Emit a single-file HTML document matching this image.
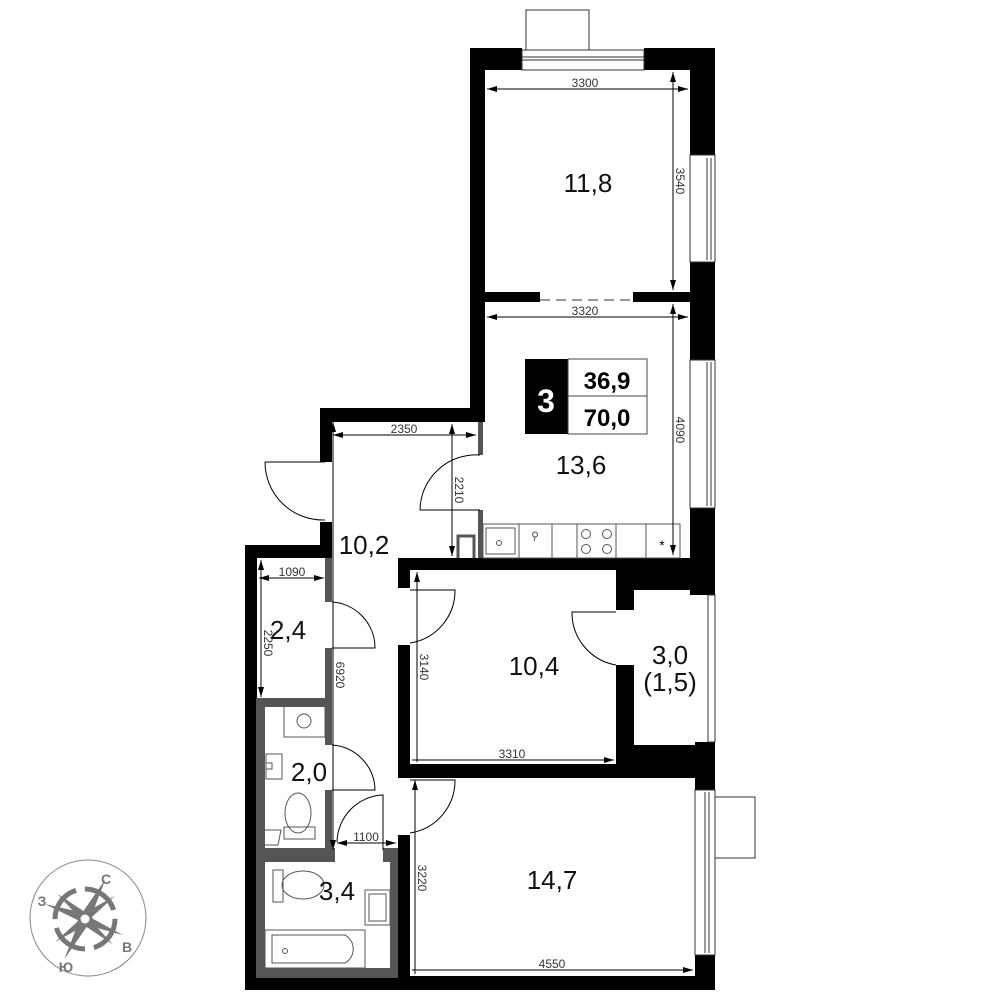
<!DOCTYPE html>
<html><head><meta charset="utf-8"><style>
html,body{margin:0;padding:0;background:#fff}
svg{display:block}
text{font-family:"Liberation Sans",sans-serif}
</style></head><body>
<svg width="1000" height="1000" viewBox="0 0 1000 1000" xmlns="http://www.w3.org/2000/svg">
<rect x="526" y="10" width="63" height="40" fill="#fff" stroke="#333" stroke-width="1"/>
<rect x="715" y="797" width="40" height="61" fill="#fff" stroke="#333" stroke-width="1"/>

<g fill="#000">
<rect x="470" y="48" width="15" height="374"/>
<rect x="470" y="48" width="52" height="22"/>
<rect x="644" y="48" width="71" height="22"/>
<rect x="690" y="48" width="25" height="107"/>
<rect x="690" y="262" width="25" height="98"/>
<rect x="690" y="508" width="25" height="87"/>
<rect x="485" y="292" width="55" height="10"/>
<rect x="633" y="292" width="57" height="10"/>
<rect x="320" y="408" width="165" height="14"/>
<rect x="320" y="408" width="12" height="54"/>
<rect x="320" y="522" width="12" height="36"/>
<rect x="245" y="545" width="87" height="13"/>
<rect x="245" y="545" width="12" height="445"/>
<rect x="245" y="976" width="470" height="14"/>
<rect x="398" y="558" width="292" height="12"/>
<rect x="398" y="558" width="12" height="30"/>
<rect x="398" y="645" width="12" height="133"/>
<rect x="398" y="835" width="12" height="155"/>
<rect x="398" y="764" width="222" height="14"/>
<rect x="616" y="558" width="99" height="32"/>
<rect x="616" y="558" width="18" height="52"/>
<rect x="616" y="665" width="18" height="113"/>
<rect x="616" y="745" width="99" height="33"/>
<rect x="695" y="742" width="20" height="48"/>
<rect x="695" y="955" width="20" height="35"/>
</g>
<g fill="#fff" stroke="#333" stroke-width="1">
<rect x="522" y="50" width="122" height="20"/>
<line x1="522" y1="57" x2="644" y2="57"/><line x1="522" y1="60" x2="644" y2="60"/>
<rect x="690" y="155" width="25" height="107"/>
<line x1="707" y1="158" x2="707" y2="260"/><line x1="711" y1="158" x2="711" y2="260"/>
<rect x="690" y="360" width="25" height="148"/>
<line x1="707" y1="362" x2="707" y2="506"/><line x1="711" y1="362" x2="711" y2="506"/>
<rect x="708" y="595" width="7" height="147"/>
<rect x="695" y="790" width="20" height="165"/>
<line x1="705" y1="792" x2="705" y2="953"/><line x1="709" y1="792" x2="709" y2="953"/>
</g>
<line x1="540" y1="300" x2="633" y2="300" stroke="#333" stroke-width="1" stroke-dasharray="10,6"/>

<g fill="#555">
<rect x="478" y="422" width="5" height="33"/>
<rect x="478" y="510" width="5" height="48"/>
<rect x="325" y="558" width="7" height="44"/>
<rect x="325" y="648" width="7" height="97"/>
<rect x="325" y="790" width="7" height="72"/>
<rect x="256" y="698" width="76" height="9"/>
<rect x="256" y="698" width="9" height="280"/>
<rect x="256" y="848" width="79" height="14"/>
<rect x="383" y="848" width="15" height="14"/>
<rect x="390" y="848" width="8" height="130"/>
<rect x="256" y="968" width="142" height="10"/>
</g>
<path d="M458 558 V536 H474 V558" fill="none" stroke="#555" stroke-width="3"/>

<g fill="none" stroke="#000" stroke-width="1">
<path d="M265 462 H325 M265 462 A58 58 0 0 0 325 520"/>
<path d="M420 510 H480 M480 455 A56 56 0 0 0 420 510"/>
<path d="M332 602 A46 46 0 0 1 375 648 H332"/>
<path d="M332 745 A46 46 0 0 1 375 790 H332"/>
<path d="M410 590 H455 A53 53 0 0 1 410 643"/>
<path d="M410 780 H455 A53 53 0 0 1 410 833"/>
<path d="M616 612 H572 A53 53 0 0 0 616 665"/>
<path d="M383 850 V795 A48 48 0 0 0 337 842"/>
</g>

<g fill="none" stroke="#555" stroke-width="1">
<rect x="483" y="524" width="197" height="34"/>
<line x1="519" y1="524" x2="519" y2="558"/><line x1="552" y1="524" x2="552" y2="558"/>
<line x1="577" y1="524" x2="577" y2="558"/><line x1="616" y1="524" x2="616" y2="558"/>
<line x1="646" y1="524" x2="646" y2="558"/>
<rect x="486" y="528" width="29" height="26"/>
<circle cx="499" cy="543" r="2.5"/>
<circle cx="586" cy="534" r="4.5"/><circle cx="607" cy="534" r="4.5"/>
<circle cx="586" cy="549" r="4.5"/><circle cx="607" cy="549" r="4.5"/>
<path d="M535 537 a2.5 2.5 0 1 1 0.1 0 l-1 4z"/>
</g>
<text x="662" y="550" font-size="14" text-anchor="middle">*</text>

<g fill="none" stroke="#555" stroke-width="1">
<rect x="284" y="705" width="41" height="32"/><circle cx="304" cy="721" r="7"/>
<rect x="266" y="754" width="16" height="25"/><path d="M266 763 h6 v6 h-6"/>
<ellipse cx="298" cy="813" rx="13" ry="20"/><rect x="284" y="827" width="31" height="12"/>
<path d="M260 830 h21 l-3 15 h-18z"/>
<rect x="273" y="870" width="10" height="32"/><ellipse cx="303" cy="885" rx="21" ry="14"/>
<rect x="365" y="890" width="25" height="35"/><rect x="369" y="894" width="17" height="27"/>
<rect x="265" y="930" width="100" height="38"/>
<path d="M272 935 H345 A16 16 0 0 1 345 963 H272 Z"/>
<circle cx="285" cy="951" r="2.5"/>
</g>

<g stroke="#000" stroke-width="1" fill="none">
<line x1="487" y1="89" x2="688" y2="89"/><line x1="673" y1="72" x2="673" y2="290"/>
<line x1="487" y1="317" x2="688" y2="317"/><line x1="673" y1="304" x2="673" y2="555"/>
<line x1="333" y1="435" x2="476" y2="435"/><line x1="452" y1="424" x2="452" y2="556"/>
<line x1="333" y1="422" x2="333" y2="850"/>
<line x1="259" y1="578" x2="324" y2="578"/><line x1="261" y1="560" x2="261" y2="697"/>
<line x1="412" y1="760" x2="614" y2="760"/><line x1="417" y1="572" x2="417" y2="762"/>
<line x1="337" y1="843" x2="396" y2="843"/>
<line x1="415" y1="780" x2="415" y2="974"/><line x1="412" y1="970" x2="693" y2="970"/>
</g>
<g fill="#000">
<path d="M487 89 l10 -3 v6z"/><path d="M688 89 l-10 -3 v6z"/>
<path d="M673 72 l-3 10 h6z"/><path d="M673 290 l-3 -10 h6z"/>
<path d="M487 317 l10 -3 v6z"/><path d="M688 317 l-10 -3 v6z"/>
<path d="M673 304 l-3 10 h6z"/><path d="M673 555 l-3 -10 h6z"/>
<path d="M333 435 l10 -3 v6z"/><path d="M476 435 l-10 -3 v6z"/>
<path d="M452 424 l-3 10 h6z"/><path d="M452 556 l-3 -10 h6z"/>
<path d="M333 422 l-3 10 h6z"/>
<path d="M259 578 l10 -3 v6z"/><path d="M324 578 l-10 -3 v6z"/>
<path d="M261 560 l-3 10 h6z"/><path d="M261 697 l-3 -10 h6z"/>
<path d="M614 760 l-10 -3 v6z"/><path d="M417 572 l-3 10 h6z"/>
<path d="M337 843 l10 -3 v6z"/><path d="M396 843 l-10 -3 v6z"/><path d="M333 850 l-3 -10 h6z"/>
<path d="M415 780 l-3 10 h6z"/><path d="M693 970 l-10 -3 v6z"/>
</g>
<g font-size="12" fill="#333">
<text x="585" y="87" text-anchor="middle">3300</text>
<text x="585" y="315" text-anchor="middle">3320</text>
<text x="404" y="433" text-anchor="middle">2350</text>
<text x="292" y="576" text-anchor="middle">1090</text>
<text x="512" y="758" text-anchor="middle">3310</text>
<text x="366" y="841" text-anchor="middle">1100</text>
<text x="552" y="968" text-anchor="middle">4550</text>
<text transform="translate(676,181) rotate(90)" text-anchor="middle">3540</text>
<text transform="translate(676,430) rotate(90)" text-anchor="middle">4090</text>
<text transform="translate(455,490) rotate(90)" text-anchor="middle">2210</text>
<text transform="translate(336,675) rotate(90)" text-anchor="middle">6920</text>
<text transform="translate(264,643) rotate(90)" text-anchor="middle">2250</text>
<text transform="translate(420,667) rotate(90)" text-anchor="middle">3140</text>
<text transform="translate(418,878) rotate(90)" text-anchor="middle">3220</text>
</g>

<g font-size="26" fill="#111" text-anchor="middle">
<text x="588" y="192">11,8</text>
<text x="581" y="474">13,6</text>
<text x="364" y="554">10,2</text>
<text x="288" y="639">2,4</text>
<text x="309" y="781">2,0</text>
<text x="337" y="900">3,4</text>
<text x="534" y="675">10,4</text>
<text x="670" y="664">3,0</text>
<text x="670" y="691">(1,5)</text>
<text x="552" y="889">14,7</text>
</g>

<rect x="525" y="359" width="43" height="75" fill="#000"/>
<rect x="568" y="359" width="79" height="75" fill="#fff" stroke="#444" stroke-width="1"/>
<line x1="568" y1="396" x2="647" y2="396" stroke="#444"/>
<text x="546" y="412" font-size="32" font-weight="bold" fill="#fff" text-anchor="middle">3</text>
<text x="607" y="389" font-size="24" font-weight="bold" text-anchor="middle">36,9</text>
<text x="607" y="426" font-size="24" font-weight="bold" text-anchor="middle">70,0</text>

<g>
<circle cx="88" cy="918" r="58" fill="none" stroke="#888" stroke-width="1"/>
<circle cx="85" cy="919" r="30" fill="none" stroke="#777" stroke-width="5" stroke-dasharray="38,9"/>
<g fill="#777" transform="translate(85,919) scale(1.15)">
<path d="M18 -35 L6 -4 L-4 -3z"/>
<path d="M-18 35 L-6 4 L4 3z"/>
<path d="M-35 -13 L-4 -6 L2 5z"/>
<path d="M33 14 L4 6 L-2 -5z"/>
<path d="M-24 -22 L-4 0 L0 -6z"/>
<path d="M24 22 L4 0 L0 6z"/>
<path d="M26 -20 L3 1 L-1 -5z"/>
<path d="M-26 20 L-3 -1 L1 5z"/>
</g>
<circle cx="85" cy="919" r="6" fill="#fff" stroke="#777" stroke-width="3"/>
<g font-size="14" font-weight="bold" fill="#777" text-anchor="middle">
<text x="106" y="884">С</text>
<text x="42" y="906">З</text>
<text x="127" y="952">В</text>
<text x="66" y="972">Ю</text>
</g>
</g>
</svg>
</body></html>
